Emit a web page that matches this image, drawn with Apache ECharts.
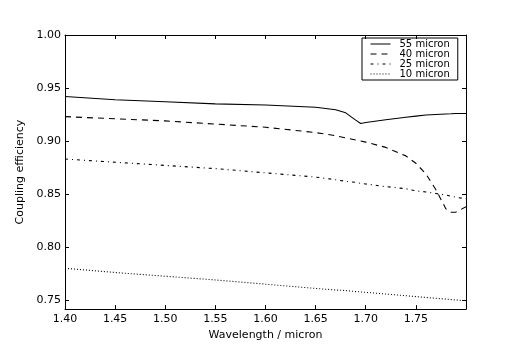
<!DOCTYPE html>
<html>
<head>
<meta charset="utf-8">
<script src="https://cdn.jsdelivr.net/npm/echarts@6/dist/echarts.min.js"></script>
<style>
  html, body { margin: 0; padding: 0; background: #fff; }
  #chart { width: 519px; height: 346px; }
</style>
</head>
<body>
<div id="chart"></div>
<script>
// wavelength samples (micron)
var wavelength = [1.40, 1.45, 1.50, 1.55, 1.60, 1.65, 1.67, 1.68, 1.69, 1.695,
                  1.70, 1.72, 1.74, 1.75, 1.76, 1.77, 1.78, 1.785, 1.79, 1.80];
// coupling efficiency per core size
var eff55 = [0.942, 0.939, 0.937, 0.935, 0.934, 0.9318, 0.9295, 0.9266, 0.9197, 0.9166,
             0.9175, 0.920, 0.9225, 0.9235, 0.9245, 0.925, 0.9255, 0.9257, 0.926, 0.926];
var eff40 = [0.923, 0.921, 0.919, 0.916, 0.913, 0.908, 0.905, 0.903, 0.901, 0.900,
             0.899, 0.894, 0.886, 0.879, 0.869, 0.854, 0.836, 0.8328, 0.833, 0.838];
var eff25 = [0.883, 0.880, 0.877, 0.874, 0.870, 0.866, 0.8635, 0.862, 0.861, 0.860,
             0.8595, 0.857, 0.855, 0.853, 0.852, 0.8505, 0.849, 0.848, 0.847, 0.8455];
var eff10 = [0.780, 0.776, 0.7725, 0.769, 0.765, 0.761, 0.7595, 0.759, 0.758, 0.7577,
             0.7573, 0.7557, 0.7541, 0.7533, 0.7525, 0.7517, 0.7509, 0.7505, 0.7501, 0.7494];
var seriesNames = ['55 micron', '40 micron', '25 micron', '10 micron'];
var yTicks = [0.75, 0.80, 0.85, 0.90, 0.95, 1.00];

document.addEventListener('DOMContentLoaded', function () {
    var chart = echarts.init(document.getElementById('chart'));
    var font = 'DejaVu Sans';

    function pairs(ys) {
        return wavelength.map(function (x, i) { return [x, ys[i]]; });
    }
    function lineSeries(name, ys, dash) {
        return {
            name: name,
            type: 'line',
            symbol: 'none',
            animation: false,
            lineStyle: { color: '#000', width: 1.1, type: dash },
            itemStyle: { color: '#000' },
            data: pairs(ys)
        };
    }

    var xCommon = {
        type: 'value',
        min: 1.4,
        max: 1.8,
        interval: 0.05,
        splitLine: { show: false },
        axisLine: { show: true, onZero: false, lineStyle: { color: '#000', width: 1 } },
        axisTick: { show: true, inside: true, length: 4, lineStyle: { color: '#000' } }
    };
    var yCommon = {
        type: 'value',
        min: 0.7415,
        max: 1.0,
        splitLine: { show: false },
        axisLine: { show: true, onZero: false, lineStyle: { color: '#000', width: 1 } },
        axisTick: { show: true, inside: true, length: 4, customValues: yTicks, lineStyle: { color: '#000' } }
    };

    var option = {
        backgroundColor: '#fff',
        animation: false,
        grid: { left: 65, right: 53, top: 35, bottom: 36 },
        legend: {
            orient: 'vertical',
            left: 362,
            top: 38,
            data: seriesNames,
            itemWidth: 20,
            itemHeight: 7,
            itemGap: 0,
            padding: [1, 8, 1, 8],
            borderColor: '#000',
            borderWidth: 1,
            itemStyle: { color: 'transparent', borderWidth: 0, opacity: 0 },
            lineStyle: { width: 1 },
            textStyle: { fontFamily: font, fontSize: 10, lineHeight: 9, color: '#000', padding: [0, 0, 0, 4] }
        },
        xAxis: [
            Object.assign({}, xCommon, {
                position: 'bottom',
                name: 'Wavelength / micron',
                nameLocation: 'middle',
                nameGap: 17,
                nameTextStyle: { fontFamily: font, fontSize: 11, color: '#000' },
                axisLabel: {
                    fontFamily: font, fontSize: 11, color: '#000', margin: 5,
                    showMaxLabel: false,
                    formatter: function (v) { return v.toFixed(2); }
                }
            }),
            Object.assign({}, xCommon, { position: 'top', axisLabel: { show: false } })
        ],
        yAxis: [
            Object.assign({}, yCommon, {
                position: 'left',
                name: 'Coupling efficiency',
                nameLocation: 'middle',
                nameGap: 25,
                nameTextStyle: { fontFamily: font, fontSize: 11, color: '#000' },
                axisLabel: {
                    fontFamily: font, fontSize: 11, color: '#000', margin: 4,
                    customValues: yTicks,
                    formatter: function (v) { return v.toFixed(2); }
                }
            }),
            Object.assign({}, yCommon, { position: 'right', axisLabel: { show: false } })
        ],
        series: [
            lineSeries(seriesNames[0], eff55, 'solid'),
            lineSeries(seriesNames[1], eff40, [6, 5]),
            lineSeries(seriesNames[2], eff25, [3, 4, 1, 4]),
            lineSeries(seriesNames[3], eff10, [1, 2])
        ]
    };
    chart.setOption(option);

    window.addEventListener('resize', function () { chart.resize(); });
});
</script>
</body>
</html>
